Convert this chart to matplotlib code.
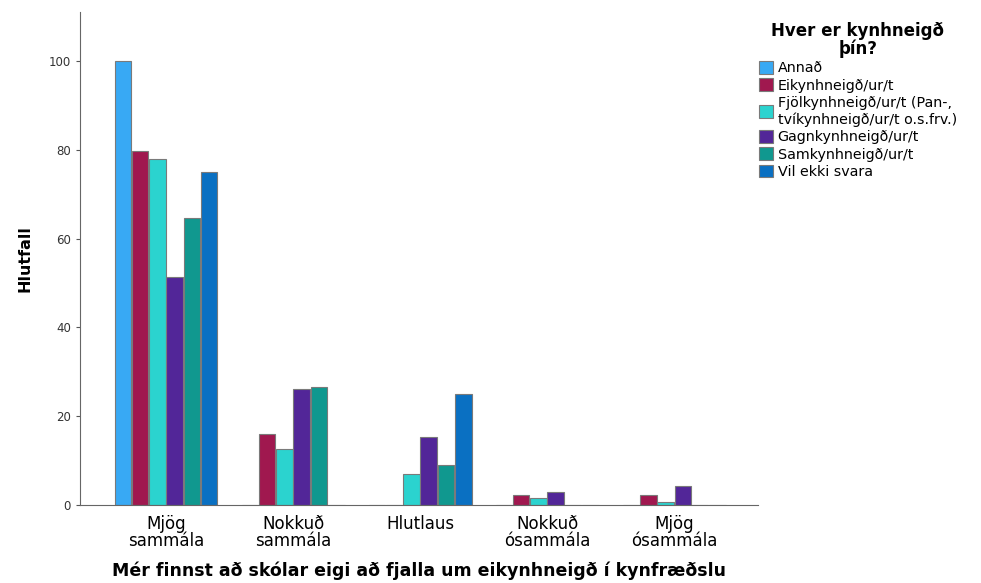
import matplotlib.pyplot as plt
import numpy as np

categories = ["Mjög\nsammála", "Nokkuð\nsammála", "Hlutlaus", "Nokkuð\nósammála", "Mjög\nósammála"]
groups = ["Annað", "Eikynhneigð/ur/t", "Fjölkynhneigð/ur/t (Pan-,\ntvíkynhneigð/ur/t o.s.frv.)",
          "Gagnkynhneigð/ur/t", "Samkynhneigð/ur/t", "Vil ekki svara"]
annad = [100, 0, 0, 0, 0]
eikyn = [79.6, 15.9, 0, 2.25, 2.25]
fjol = [78.0, 12.5, 7.0, 1.5, 0.75]
gagn = [51.4, 26.1, 15.2, 2.9, 4.3]
samkyn = [64.7, 26.5, 8.9, 0, 0]
vil = [75.0, 0, 25.0, 0, 0]
series = [annad, eikyn, fjol, gagn, samkyn, vil]
colors = ["#38A9F4", "#A0184F", "#2BD3CF", "#522698", "#10988F", "#0A70C2"]

fig = plt.figure(figsize=(9.81, 5.83), dpi=100)
ax = fig.add_axes([80 / 981, 1 - 505 / 583, 678 / 981, 493 / 583])

x = np.arange(len(categories))
w = 0.136
handles = []
for i, (vals, c) in enumerate(zip(series, colors)):
    b = ax.bar(x + (i - 2.5) * w, vals, w * 0.96, color=c, edgecolor="#7a7a7a", linewidth=0.8)
    handles.append(b)

ax.set_xlim(-0.677, 4.66)
ax.set_ylim(0, 111)
ax.set_yticks([0, 20, 40, 60, 80, 100])
ax.set_xticks(x)
ax.set_xticklabels(categories, fontsize=12, linespacing=0.95)
ax.tick_params(axis="x", length=0, pad=7)
ax.tick_params(axis="y", labelsize=8.5, length=3, color="#555555", labelcolor="#333333")
for s in ["top", "right"]:
    ax.spines[s].set_visible(False)
ax.spines["left"].set_color("#666666")
ax.spines["bottom"].set_color("#666666")
ax.set_ylabel("Hlutfall", fontsize=11.5, fontweight="bold", labelpad=12)
ax.set_xlabel("Mér finnst að skólar eigi að fjalla um eikynhneigð í kynfræðslu",
              fontsize=12.5, fontweight="bold", labelpad=8)

leg = fig.legend(handles, groups, loc="upper left", bbox_to_anchor=(759 / 981, 1 - 22 / 583),
                 frameon=False, fontsize=10.3, title="Hver er kynhneigð\nþín?",
                 title_fontproperties={"weight": "bold", "size": 12},
                 handlelength=1.0, handleheight=1.0, handletextpad=0.3,
                 labelspacing=0.22, borderaxespad=0, borderpad=0)
leg.get_title().set_multialignment("center")
leg.get_title().set_linespacing(0.95)

fig.savefig("out.png", dpi=100)
